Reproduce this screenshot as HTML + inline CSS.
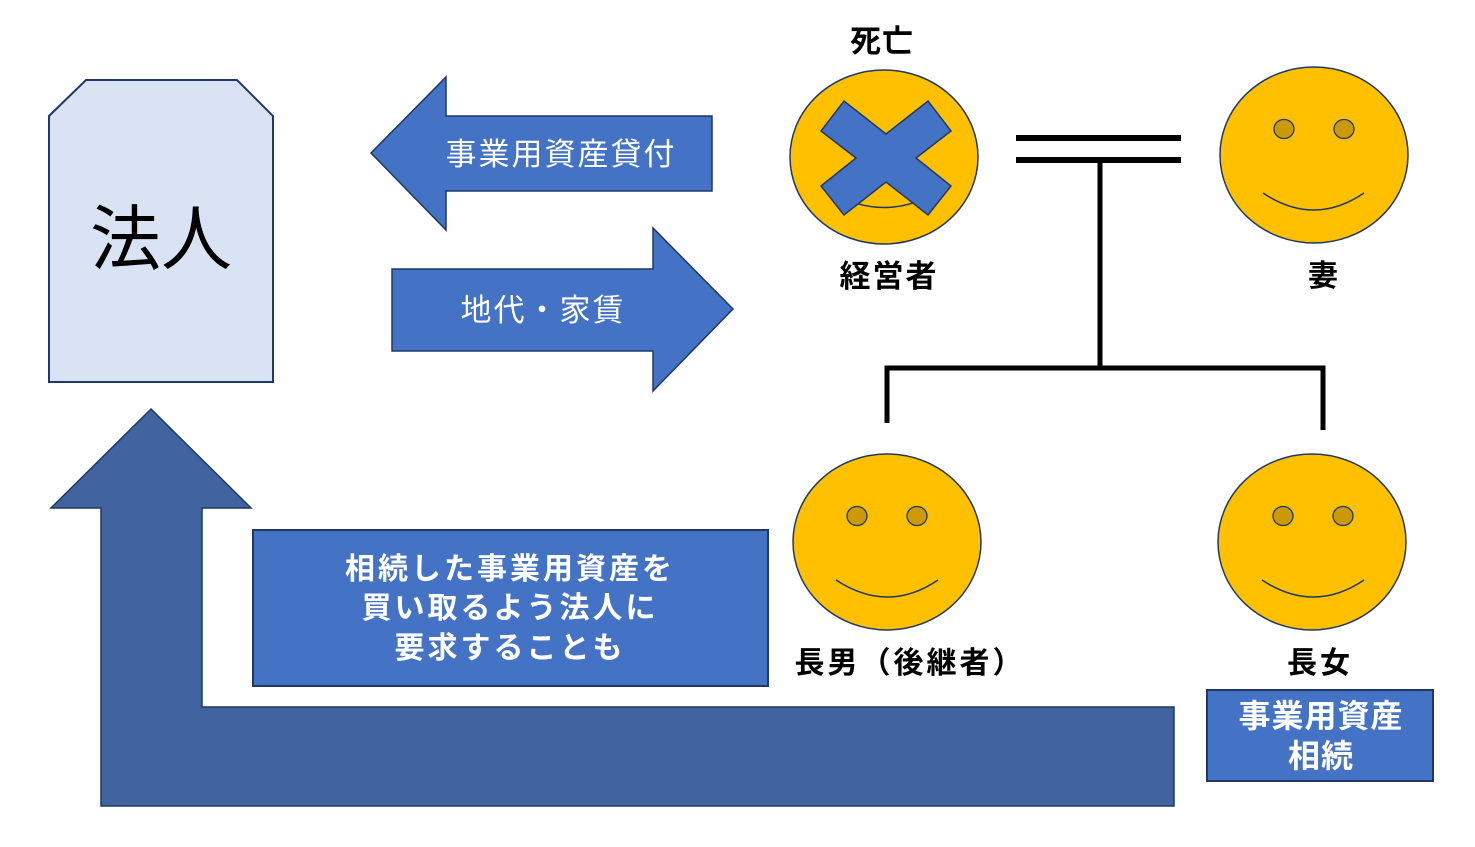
<!DOCTYPE html>
<html><head><meta charset="utf-8">
<style>
html,body{margin:0;padding:0;background:#fff;}
svg{display:block;}
text{font-family:"Liberation Sans","Noto Sans CJK JP",sans-serif;}
.b{font-weight:700;}
</style></head>
<body>
<svg width="1475" height="847" viewBox="0 0 1475 847" xmlns="http://www.w3.org/2000/svg">
<!-- 法人 box -->
<polygon points="49,116 86,80 237,80 273,116 273,382 49,382" fill="#DAE3F3" stroke="#1F3864" stroke-width="2"/>
<text x="161" y="264" font-size="71" text-anchor="middle" fill="#000">法人</text>

<!-- left arrow -->
<polygon points="371,153 446,77 446,116 712,116 712,191 446,191 446,230" fill="#4472C4" stroke="#1F3864" stroke-width="1.5"/>
<text x="561" y="165" font-size="31" letter-spacing="2" text-anchor="middle" fill="#fff">事業用資産貸付</text>

<!-- right arrow -->
<polygon points="392,269 653,269 653,228 733,309 653,391 653,351 392,351" fill="#4472C4" stroke="#1F3864" stroke-width="1.5"/>
<text x="543" y="321" font-size="31" letter-spacing="2" text-anchor="middle" fill="#fff">地代・家賃</text>

<!-- big L arrow -->
<polygon points="151,409 251,508 202,508 202,707 1174,707 1174,806 101,806 101,508 51,508" fill="#41639F" stroke="#1F3864" stroke-width="1.5"/>

<!-- text box -->
<rect x="253" y="530" width="515" height="156" fill="#4472C4" stroke="#1F3864" stroke-width="2"/>
<text x="510" y="579" font-size="30" letter-spacing="3" class="b" text-anchor="middle" fill="#fff">相続した事業用資産を</text>
<text x="510" y="618" font-size="30" letter-spacing="3" class="b" text-anchor="middle" fill="#fff">買い取るよう法人に</text>
<text x="510" y="658" font-size="30" letter-spacing="3" class="b" text-anchor="middle" fill="#fff">要求することも</text>

<!-- family lines -->
<line x1="1016" y1="138" x2="1181" y2="138" stroke="#000" stroke-width="6"/>
<line x1="1016" y1="160" x2="1181" y2="160" stroke="#000" stroke-width="6"/>
<line x1="1100" y1="160" x2="1100" y2="368" stroke="#000" stroke-width="5"/>
<polyline points="887,423 887,368 1323,368 1323,430" fill="none" stroke="#000" stroke-width="5"/>

<!-- 経営者 face -->
<ellipse cx="884" cy="157" rx="94" ry="87" fill="#FFC000" stroke="#1F3864" stroke-width="1.5"/>
<path d="M832,193 Q884,222 936,193" fill="none" stroke="#1F3864" stroke-width="1.5"/>
<polygon points="821,131 844,101 886,134 928,101 951,131 916,158 951,186 928,215 886,182 844,215 821,186 856,158" fill="#4472C4" stroke="#1F3864" stroke-width="1.5"/>
<text x="882" y="52" font-size="31" letter-spacing="1" class="b" text-anchor="middle" fill="#000">死亡</text>
<text x="889" y="287" font-size="31" letter-spacing="2" class="b" text-anchor="middle" fill="#000">経営者</text>

<!-- 妻 face -->
<ellipse cx="1314" cy="155" rx="94" ry="88" fill="#FFC000" stroke="#1F3864" stroke-width="1.5"/>
<ellipse cx="1284" cy="129" rx="10" ry="9.5" fill="#CC9A06" stroke="#1F3864" stroke-width="1.3"/>
<ellipse cx="1344" cy="129" rx="10" ry="9.5" fill="#CC9A06" stroke="#1F3864" stroke-width="1.3"/>
<path d="M1263,193 Q1314,227 1364,193" fill="none" stroke="#1F3864" stroke-width="1.5"/>
<text x="1323" y="286" font-size="30" class="b" text-anchor="middle" fill="#000">妻</text>

<!-- 長男 face -->
<ellipse cx="887" cy="542" rx="94" ry="88" fill="#FFC000" stroke="#1F3864" stroke-width="1.5"/>
<ellipse cx="857" cy="516" rx="10" ry="9.5" fill="#CC9A06" stroke="#1F3864" stroke-width="1.3"/>
<ellipse cx="917" cy="516" rx="10" ry="9.5" fill="#CC9A06" stroke="#1F3864" stroke-width="1.3"/>
<path d="M836,580 Q888,614 938,580" fill="none" stroke="#1F3864" stroke-width="1.5"/>
<text x="910" y="673" font-size="30" letter-spacing="3" class="b" text-anchor="middle" fill="#000">長男（後継者）</text>

<!-- 長女 face -->
<ellipse cx="1312" cy="542" rx="94" ry="88" fill="#FFC000" stroke="#1F3864" stroke-width="1.5"/>
<ellipse cx="1283" cy="516" rx="10" ry="9.5" fill="#CC9A06" stroke="#1F3864" stroke-width="1.3"/>
<ellipse cx="1343" cy="516" rx="10" ry="9.5" fill="#CC9A06" stroke="#1F3864" stroke-width="1.3"/>
<path d="M1262,580 Q1314,614 1364,580" fill="none" stroke="#1F3864" stroke-width="1.5"/>
<text x="1320" y="673" font-size="30" letter-spacing="3" class="b" text-anchor="middle" fill="#000">長女</text>

<!-- 事業用資産相続 box -->
<rect x="1207" y="690" width="226" height="91" fill="#4472C4" stroke="#1F3864" stroke-width="2"/>
<text x="1321" y="727" font-size="32" letter-spacing="1" class="b" text-anchor="middle" fill="#fff">事業用資産</text>
<text x="1321" y="767" font-size="32" letter-spacing="1" class="b" text-anchor="middle" fill="#fff">相続</text>
</svg>
</body></html>
